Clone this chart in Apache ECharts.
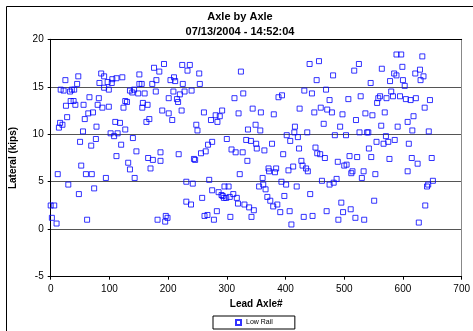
<!DOCTYPE html>
<html>
<head>
<meta charset="utf-8">
<title>Axle by Axle</title>
<script src="https://cdn.jsdelivr.net/npm/echarts@6/dist/echarts.min.js"></script>
<style>
  html, body { margin: 0; padding: 0; background: #fff; }
  #chart { width: 473px; height: 331px; }
</style>
</head>
<body>
<div id="chart"></div>
<script>
const chartTitle = "Axle by Axle";
const chartSubtitle = "07/13/2004 - 14:52:04";
const seriesName = "Low Rail";

// lead axle number / lateral load (kips)
const axleNo = [
  0, 2, 6, 10, 12, 14, 16, 17, 20, 22, 25, 26, 28, 30, 33, 34, 36, 39, 40, 42,
  45, 47, 48, 50, 52, 55, 56, 58, 60, 62, 64, 66, 69, 70, 72, 74, 77, 78, 80, 82,
  83, 86, 88, 91, 91, 94, 97, 99, 99, 102, 104, 105, 108, 110, 112, 112, 114,
  118, 120, 122, 124, 127, 127, 130, 132, 135, 135, 139, 140, 142, 143, 146, 149, 151, 151,
  155, 156, 157, 160, 163, 165, 166, 168, 170, 173, 174, 176, 179, 180, 182, 185, 187, 187,
  190, 193, 195, 196, 199, 201, 201, 204, 207, 209, 210, 212, 215, 217, 218, 220, 223, 224,
  225, 228, 231, 231, 233,
  237, 239, 240, 242, 244, 246, 248, 250, 253, 254, 256, 258, 261, 262, 264, 267, 268, 270,
  273, 275, 275, 278, 281, 283, 284, 286, 288, 291, 292, 293, 295, 296, 299, 300, 303, 305,
  306, 308, 311, 313, 315, 317, 319, 320, 322, 324, 327, 328, 330, 333, 335, 336, 338, 341,
  342, 344, 346, 349, 350, 351,
  355, 357, 358, 361, 362, 364, 366, 369, 371, 372, 374, 377, 379, 380, 382, 384, 386, 388,
  391, 393, 394, 396, 398, 401, 402, 405, 407, 408, 410, 413, 415, 416, 419, 421, 423, 424,
  427, 429, 431, 432, 435, 437, 438, 441, 442, 445, 446, 449, 451, 453, 454, 457, 459, 460,
  462, 465, 467, 469, 470, 471,
  475, 475, 479, 481, 482, 484, 487, 489, 490, 493, 495, 497, 498, 500, 503, 504, 507, 509,
  511, 512, 514, 517, 519, 520, 522, 525, 526, 528, 530, 533, 534, 536, 539, 541, 542, 545,
  546, 548, 551, 553, 555, 556, 558, 561, 563, 564, 567, 569, 571, 572, 575, 577, 578, 580,
  583, 585, 586, 589, 589, 591,
  595, 597, 599, 600, 603, 605, 608, 608, 610, 613, 615, 616, 618, 621, 622, 625, 627, 629,
  630, 633, 635, 637, 638, 641, 643, 644, 646, 649, 651
];
const lateral = [
  2.5, 1.2, 2.5, 0.6, 5.8, 10.7, 11.2, 14.7, 11.0, 14.6, 15.7, 13.0, 11.8, 4.7, 14.5, 13.5, 14.7, 13.5, 14.7, 13.1,
  15.3, 16.1, 3.7, 9.2, 6.7, 10.3, 13.1, 11.6, 5.8, 1.0, 12.2, 13.9, 8.8, 5.8, 12.3, 4.3, 9.5, 10.8, 13.1, 13.8,
  15.4, 16.4, 12.8, 16.1, 14.9, 5.4, 15.5, 12.9, 14.7, 10.1, 15.4, 15.8, 9.8, 11.3, 15.9, 7.7, 10.1,
  11.2, 8.9, 16.0, 12.8, 13.5, 10.5, 13.4, 7.0, 14.6, 6.3, 14.4, 9.6, 14.7, 5.4, 8.2, 14.3, 15.3, 16.3,
  15.3, 12.8, 13.3, 14.3, 11.3, 13.1, 7.5, 11.6, 6.4, 15.3, 7.3, 17.0, 14.5, 15.7, 1.0, 16.6, 7.2, 8.1,
  12.5, 17.4, 0.8, 1.4, 1.2, 13.8, 12.2, 15.7, 11.5, 14.5, 16.0, 15.6, 13.7, 13.4, 7.9, 14.2, 12.5, 17.3,
  15.3, 14.5, 5.0, 2.9, 16.7,
  17.3, 2.6, 14.6, 4.8, 7.4, 7.3, 11.0, 10.4, 16.4, 15.3, 8.0, 3.3, 12.3, 1.4, 8.2, 1.5, 8.9, 5.2,
  11.5, 4.1, 9.2, 1.0, 12.0, 1.9, 11.3, 3.9, 11.9, 3.6, 12.5, 3.5, 3.3, 4.5, 3.3, 9.5, 4.5, 3.4,
  1.3, 8.4, 3.7, 13.8, 8.1, 3.3, 2.7, 12.2, 5.8, 16.6, 8.1, 14.3, 2.6, 9.4, 7.2, 10.5, 2.3, 9.3,
  1.3, 12.7, 2.0, 11.0, 9.0, 8.5,
  4.5, 10.4, 12.3, 5.4, 4.7, 8.3, 4.2, 3.4, 6.4, 6.1, 3.0, 9.0, 2.4, 12.1, 6.0, 6.4, 2.6, 13.9,
  1.8, 5.0, 14.1, 7.9, 3.5, 4.7, 9.9, 6.2, 1.9, 9.3, 0.5, 6.6, 10.2, 10.8, 4.5, 9.7, 8.5, 12.7,
  7.2, 6.7, 1.3, 14.6, 6.4, 10.2, 6.1, 17.4, 3.7, 14.3, 1.4, 12.3, 8.6, 15.7, 8.0, 17.7, 7.9, 12.8,
  5.1, 11.1, 7.5, 14.7, 1.9, 12.6,
  4.7, 13.6, 12.3, 16.2, 4.9, 9.9, 5.3, 7.1, 1.0, 10.8, 2.8, 12.1, 1.8, 6.7, 9.9, 6.8, 13.7, 7.7,
  2.1, 5.9, 6.1, 16.7, 1.2, 11.5, 7.6, 17.4, 10.2, 14.0, 5.4, 6.1, 1.0, 12.2, 10.2, 10.2, 8.5, 15.4,
  7.6, 12.0, 3.0, 5.8, 9.2, 13.3, 13.8, 14.0, 10.9, 16.9, 9.0, 12.3, 9.8, 13.8, 9.2, 7.4, 15.6, 14.5,
  14.0, 16.4, 9.4, 18.4, 16.2, 10.8,
  14.0, 18.4, 17.1, 15.7, 15.1, 13.7, 11.3, 6.1, 9.0, 13.6, 7.5, 10.4, 11.9, 16.4, 13.8, 6.9, 0.7, 16.8,
  15.7, 18.2, 16.1, 12.8, 2.5, 4.5, 4.7, 10.3, 13.6, 7.5, 5.1
];

const FONT = "'Liberation Sans', Arial, Helvetica, sans-serif";
const points = axleNo.map((x, i) => [x, lateral[i]]);

const option = {
  animation: false,
  backgroundColor: "#fff",
  textStyle: { fontFamily: FONT, color: "#000" },
  grid: { left: 50.7, right: 11.3, top: 39.3, bottom: 54.3, containLabel: false },
  graphic: [
    {
      type: "rect",
      silent: true,
      shape: { x: 6.5, y: 6.5, width: 470, height: 330 },
      style: { fill: null, stroke: "#000", lineWidth: 1 }
    },
    {
      type: "text",
      x: 240, y: 16.7,
      style: {
        text: chartTitle, fill: "#000", font: "bold 11px " + FONT,
        textAlign: "center", textVerticalAlign: "middle"
      }
    },
    {
      type: "text",
      x: 240, y: 31.7,
      style: {
        text: chartSubtitle, fill: "#000", font: "bold 11px " + FONT,
        textAlign: "center", textVerticalAlign: "middle"
      }
    }
  ],
  legend: {
    data: [seriesName],
    left: 213,
    top: 316,
    padding: [3, 22, 3, 22],
    borderColor: "#000",
    borderWidth: 1,
    itemWidth: 5,
    itemHeight: 5,
    itemGap: 4,
    icon: "rect",
    textStyle: { fontSize: 7, color: "#000", fontFamily: FONT },
    selectedMode: false
  },
  xAxis: [
    {
      type: "value",
      min: 0, max: 700, interval: 100,
      name: "Lead Axle#",
      nameLocation: "middle",
      nameGap: 21,
      nameTextStyle: { fontSize: 10, fontWeight: "bold", color: "#000", fontFamily: FONT },
      axisLine: { show: true, onZero: false, lineStyle: { color: "#000", width: 1 } },
      axisTick: { show: true, length: 3, lineStyle: { color: "#000" } },
      axisLabel: { fontSize: 10, color: "#000", margin: 8, fontFamily: FONT },
      splitLine: { show: false }
    },
    {
      type: "value",
      position: "top",
      min: 0, max: 700,
      axisLine: { show: true, onZero: false, lineStyle: { color: "#000", width: 1 } },
      axisTick: { show: false },
      axisLabel: { show: false },
      splitLine: { show: false }
    }
  ],
  yAxis: [
    {
      type: "value",
      min: -5, max: 20, interval: 5,
      name: "Lateral (kips)",
      nameLocation: "middle",
      nameGap: 32,
      nameTextStyle: { fontSize: 10, fontWeight: "bold", color: "#000", fontFamily: FONT },
      axisLine: { show: true, onZero: false, lineStyle: { color: "#000", width: 1 } },
      axisTick: { show: true, length: 3, lineStyle: { color: "#000" } },
      axisLabel: { fontSize: 10, color: "#000", margin: 7, fontFamily: FONT },
      splitLine: { show: true, lineStyle: { color: "#555", width: 1 } }
    },
    {
      type: "value",
      position: "right",
      min: -5, max: 20,
      axisLine: { show: true, onZero: false, lineStyle: { color: "#888", width: 1 } },
      axisTick: { show: false },
      axisLabel: { show: false },
      splitLine: { show: false }
    }
  ],
  series: [
    {
      name: seriesName,
      type: "scatter",
      xAxisIndex: 0,
      yAxisIndex: 0,
      symbol: "rect",
      symbolSize: 5,
      silent: true,
      itemStyle: { color: "rgba(255,255,255,0)", borderColor: "#0000ff", borderWidth: 1 },
      data: points
    }
  ]
};

const chart = echarts.init(document.getElementById("chart"));
chart.setOption(option);
</script>
</body>
</html>
